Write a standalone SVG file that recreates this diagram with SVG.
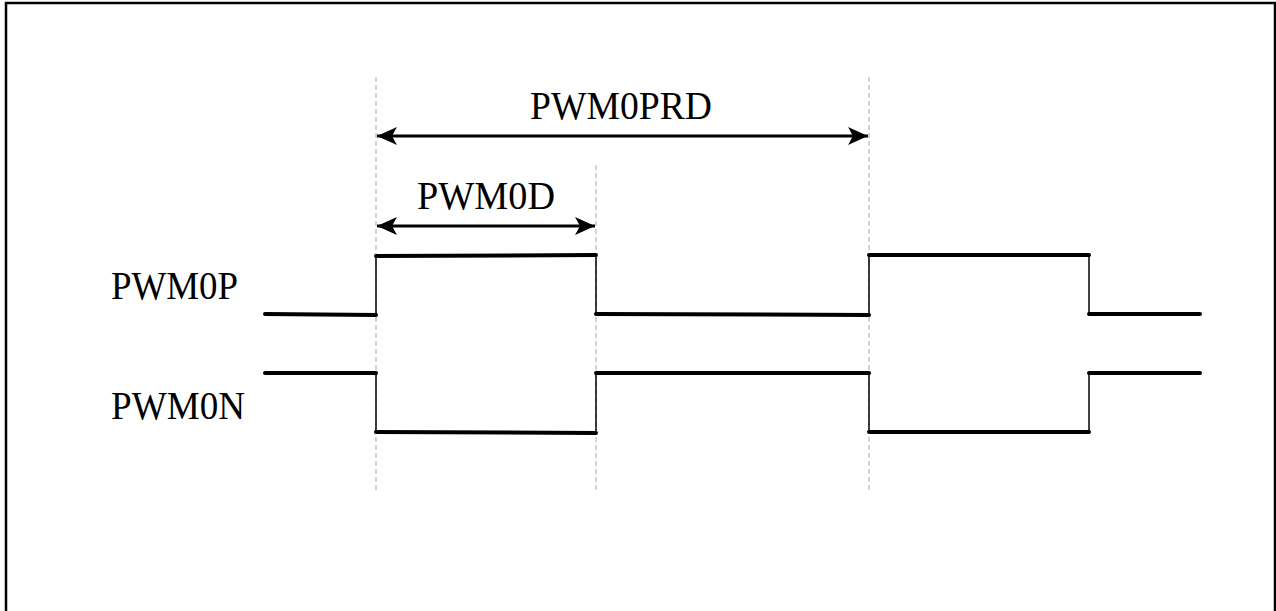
<svg xmlns="http://www.w3.org/2000/svg" width="1276" height="611" viewBox="0 0 1276 611">
<style>
.lbl{font-family:'Liberation Serif','DejaVu Serif',serif;font-size:39px;fill:#000}
.sig{fill:none;stroke:#000;stroke-width:4;stroke-linecap:round}
.edge{stroke:#000;stroke-width:1.5}
.guide{stroke:#b8b8b8;stroke-width:1.2;stroke-dasharray:5 3}
.dim{stroke:#000;stroke-width:3}
</style>
<defs>
<marker id="ah" viewBox="0 0 20 18" refX="20" refY="9" markerWidth="20" markerHeight="18" markerUnits="userSpaceOnUse" orient="auto-start-reverse">
<path d="M0,0 L20,9 L0,18 L5,9 Z" fill="#000"/>
</marker>
</defs>
<rect x="6" y="3" width="1269" height="612" fill="#fff" stroke="#000" stroke-width="2.5"/>
<g id="guides">
<line class="guide" x1="376" y1="77" x2="376" y2="492"/>
<line class="guide" x1="596" y1="165" x2="596" y2="492"/>
<line class="guide" x1="869" y1="77" x2="869" y2="492"/>
</g>
<g id="connectors">
<line class="dim" x1="377" y1="136" x2="868" y2="136" marker-start="url(#ah)" marker-end="url(#ah)"/>
<line class="dim" x1="377" y1="226" x2="595" y2="226" marker-start="url(#ah)" marker-end="url(#ah)"/>
</g>
<g id="label-prd"><text class="lbl" font-family="Liberation Serif, serif" x="530" y="119" textLength="182" lengthAdjust="spacingAndGlyphs">PWM0PRD</text></g>
<g id="label-d"><text class="lbl" font-family="Liberation Serif, serif" x="417" y="209" textLength="138" lengthAdjust="spacingAndGlyphs">PWM0D</text></g>
<g id="label-p"><text class="lbl" font-family="Liberation Serif, serif" x="111" y="299" textLength="127" lengthAdjust="spacingAndGlyphs">PWM0P</text></g>
<g id="label-n"><text class="lbl" font-family="Liberation Serif, serif" x="111" y="419" textLength="134" lengthAdjust="spacingAndGlyphs">PWM0N</text></g>
<g id="pwm0p">
<line class="edge" x1="376" y1="314" x2="376" y2="255"/>
<line class="edge" x1="596" y1="255" x2="596" y2="314"/>
<line class="edge" x1="869" y1="315" x2="869" y2="255"/>
<line class="edge" x1="1089" y1="255" x2="1089" y2="314"/>
<line class="sig" x1="265" y1="314" x2="376" y2="315"/>
<line class="sig" x1="376" y1="256" x2="596" y2="255"/>
<line class="sig" x1="596" y1="314" x2="869" y2="315"/>
<line class="sig" x1="869" y1="255" x2="1089" y2="255"/>
<line class="sig" x1="1089" y1="314" x2="1200" y2="314"/>
</g>
<g id="pwm0n">
<line class="edge" x1="376" y1="373" x2="376" y2="432"/>
<line class="edge" x1="596" y1="433" x2="596" y2="373"/>
<line class="edge" x1="869" y1="373" x2="869" y2="432"/>
<line class="edge" x1="1089" y1="432" x2="1089" y2="373"/>
<line class="sig" x1="265" y1="373" x2="376" y2="373"/>
<line class="sig" x1="376" y1="432" x2="596" y2="433"/>
<line class="sig" x1="596" y1="373" x2="869" y2="373"/>
<line class="sig" x1="869" y1="432" x2="1089" y2="432"/>
<line class="sig" x1="1089" y1="373" x2="1200" y2="373"/>
</g>
</svg>
